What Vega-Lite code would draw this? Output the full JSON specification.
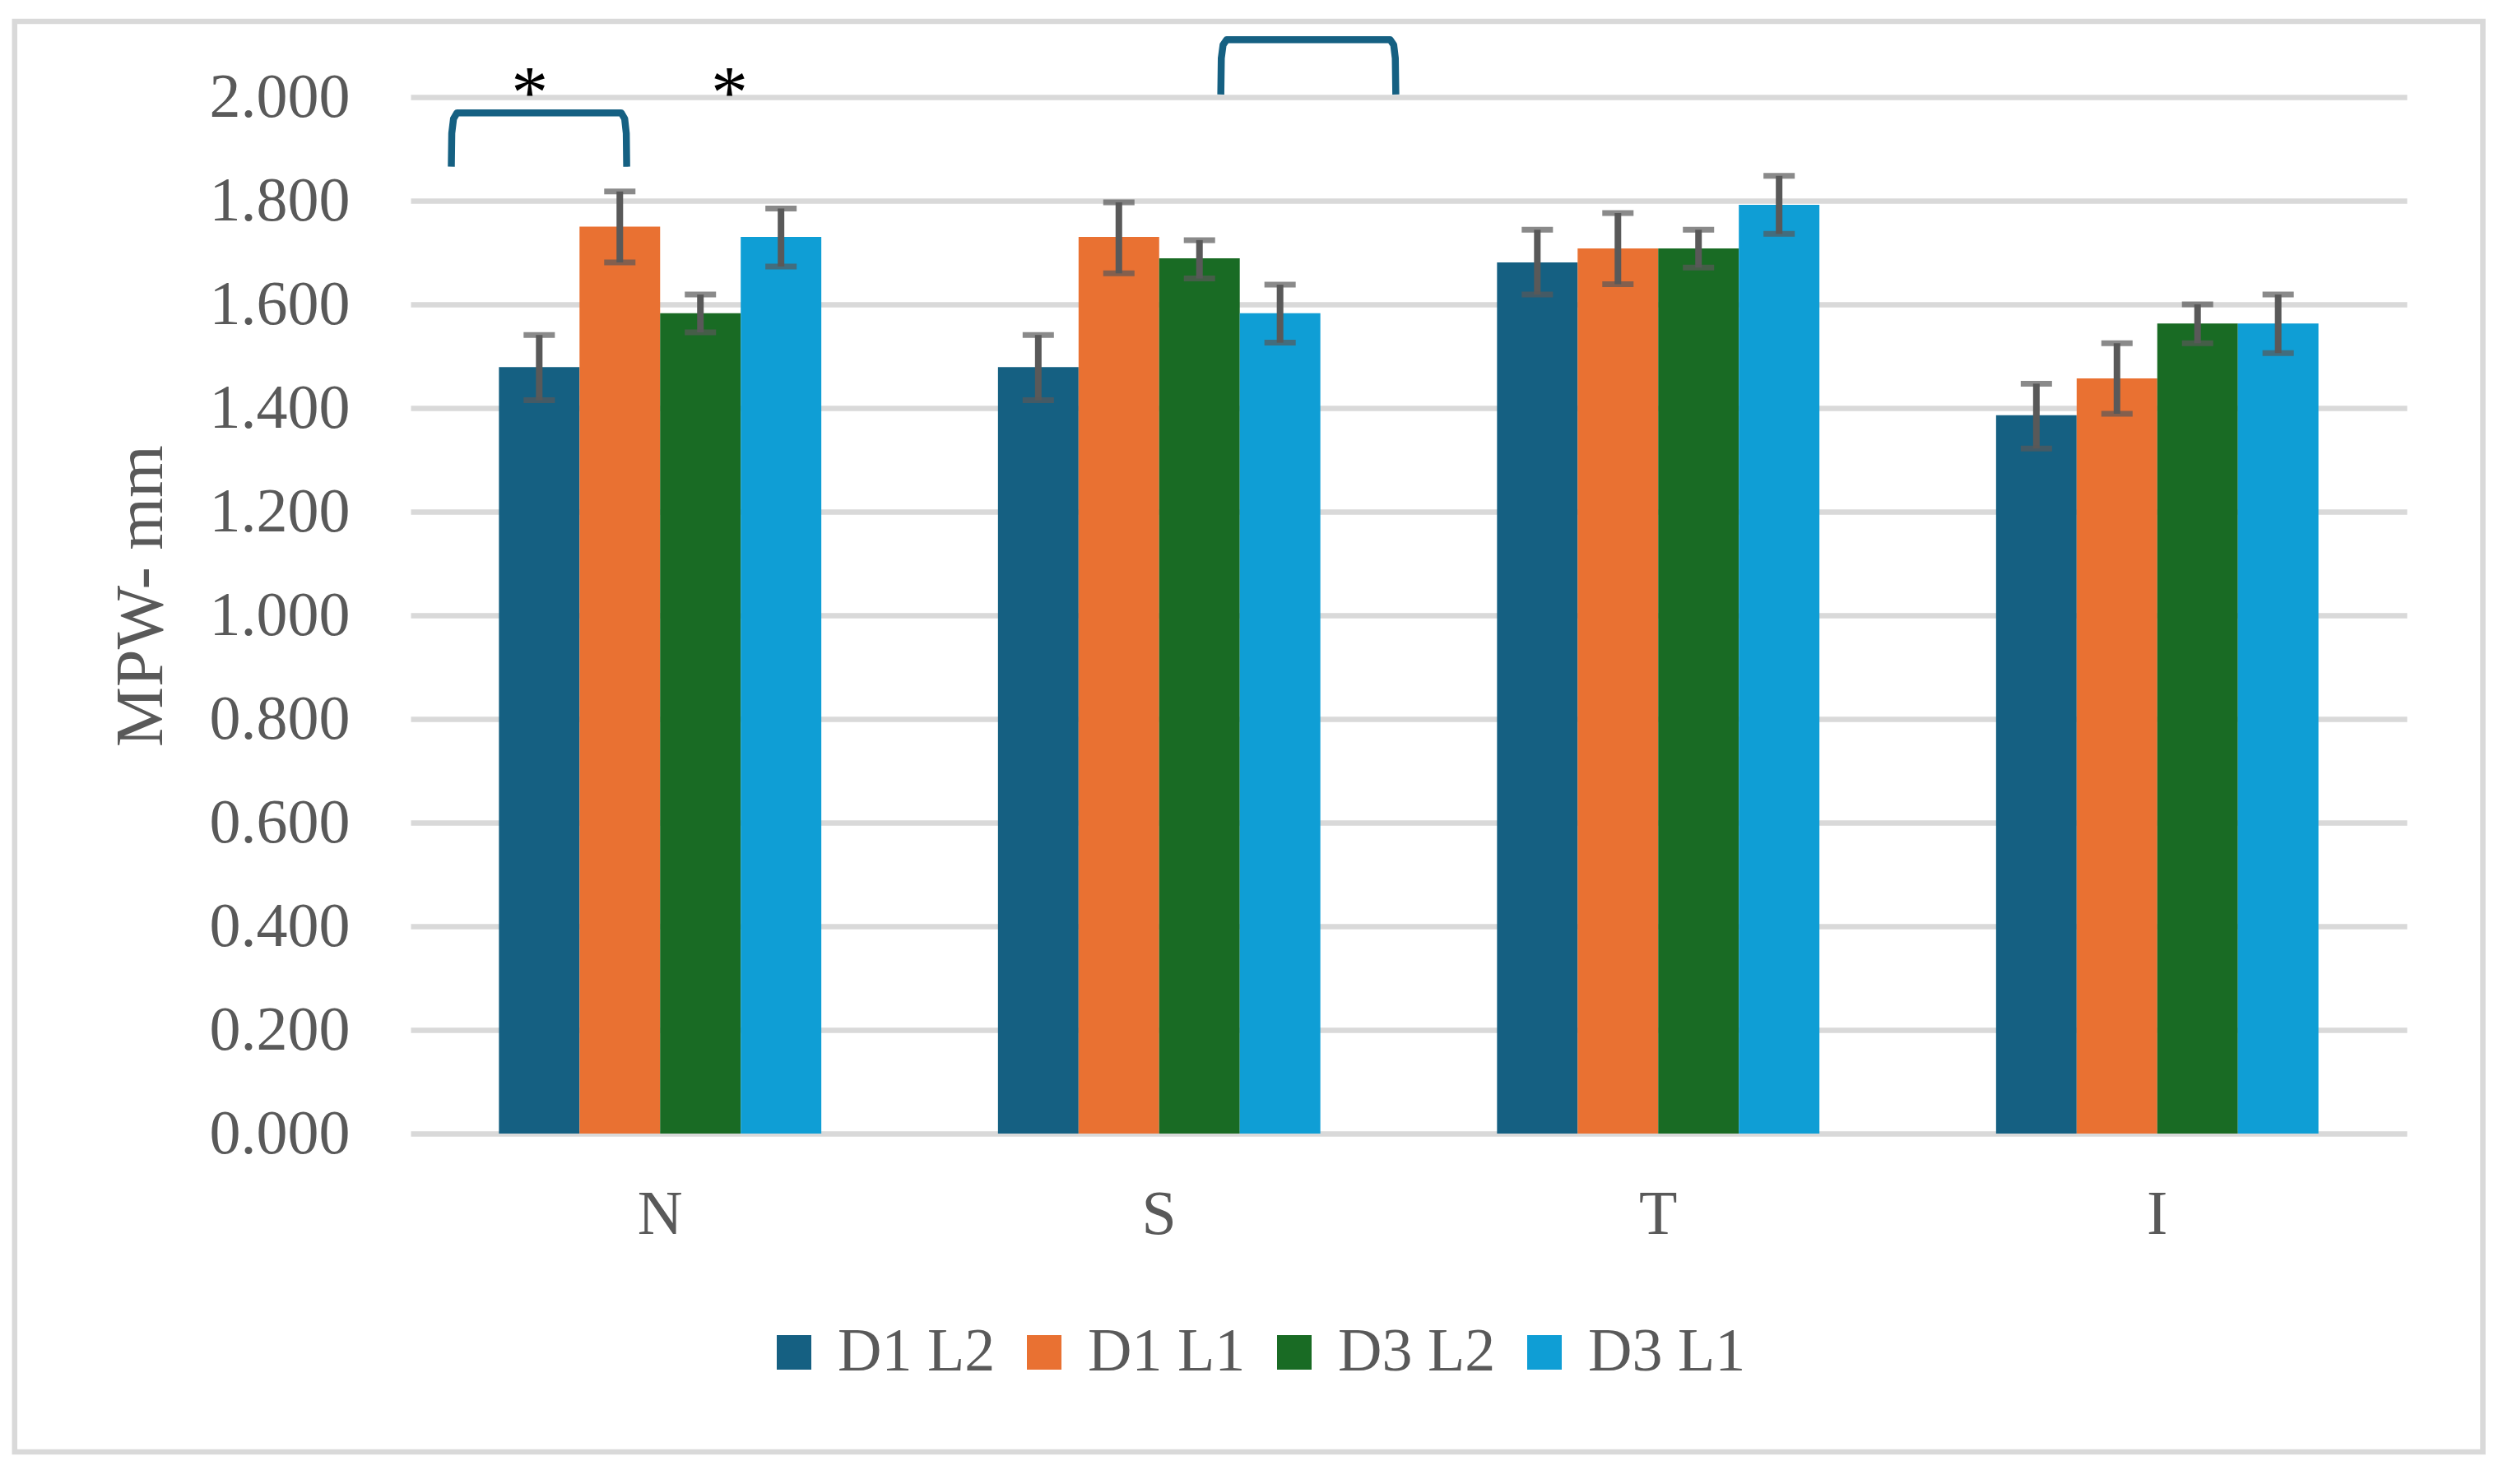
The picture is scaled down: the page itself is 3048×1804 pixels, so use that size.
{
  "$schema": "https://vega.github.io/schema/vega-lite/v6.json",
  "width": 2426,
  "height": 1260,
  "autosize": {"type": "none"},
  "padding": {"left": 499, "top": 118, "right": 123, "bottom": 426},
  "background": "white",
  "config": {
    "view": {"stroke": null},
    "font": "Liberation Serif"
  },
  "datasets": {
    "bars": [
      {"region": "N", "group": "D1 L2", "mean": 1.479, "lo": 1.415, "hi": 1.541},
      {"region": "N", "group": "D1 L1", "mean": 1.750, "lo": 1.681, "hi": 1.818},
      {"region": "N", "group": "D3 L2", "mean": 1.583, "lo": 1.546, "hi": 1.619},
      {"region": "N", "group": "D3 L1", "mean": 1.730, "lo": 1.673, "hi": 1.785},
      {"region": "S", "group": "D1 L2", "mean": 1.479, "lo": 1.415, "hi": 1.541},
      {"region": "S", "group": "D1 L1", "mean": 1.730, "lo": 1.660, "hi": 1.797},
      {"region": "S", "group": "D3 L2", "mean": 1.689, "lo": 1.650, "hi": 1.724},
      {"region": "S", "group": "D3 L1", "mean": 1.583, "lo": 1.526, "hi": 1.638},
      {"region": "T", "group": "D1 L2", "mean": 1.681, "lo": 1.619, "hi": 1.744},
      {"region": "T", "group": "D1 L1", "mean": 1.708, "lo": 1.639, "hi": 1.776},
      {"region": "T", "group": "D3 L2", "mean": 1.708, "lo": 1.671, "hi": 1.744},
      {"region": "T", "group": "D3 L1", "mean": 1.792, "lo": 1.736, "hi": 1.848},
      {"region": "I", "group": "D1 L2", "mean": 1.386, "lo": 1.322, "hi": 1.447},
      {"region": "I", "group": "D1 L1", "mean": 1.457, "lo": 1.389, "hi": 1.525},
      {"region": "I", "group": "D3 L2", "mean": 1.563, "lo": 1.525, "hi": 1.600},
      {"region": "I", "group": "D3 L1", "mean": 1.563, "lo": 1.506, "hi": 1.619}
    ],
    "brackets": [
      {"b": 1, "i": 1, "px": 0.0816, "py": 1.8656},
      {"b": 1, "i": 2, "px": 0.0825, "py": 1.93},
      {"b": 1, "i": 3, "px": 0.086, "py": 1.958},
      {"b": 1, "i": 4, "px": 0.093, "py": 1.9695},
      {"b": 1, "i": 5, "px": 0.422, "py": 1.9695},
      {"b": 1, "i": 6, "px": 0.429, "py": 1.958},
      {"b": 1, "i": 7, "px": 0.4322, "py": 1.93},
      {"b": 1, "i": 8, "px": 0.433, "py": 1.8656},
      {"b": 2, "i": 1, "px": 1.6235, "py": 2.005},
      {"b": 2, "i": 2, "px": 1.6245, "py": 2.075},
      {"b": 2, "i": 3, "px": 1.628, "py": 2.1005},
      {"b": 2, "i": 4, "px": 1.635, "py": 2.1106},
      {"b": 2, "i": 5, "px": 1.963, "py": 2.1106},
      {"b": 2, "i": 6, "px": 1.970, "py": 2.1005},
      {"b": 2, "i": 7, "px": 1.9732, "py": 2.075},
      {"b": 2, "i": 8, "px": 1.9742, "py": 2.005}
    ],
    "stars": [
      {"px": 0.2387, "py": 1.96, "label": "*"},
      {"px": 0.639, "py": 1.96, "label": "*"}
    ],
    "frame": [
      {"x1": -0.7934, "x2": 4.1525, "y1": 2.146, "y2": -0.6143}
    ]
  },
  "layer": [
    {
      "data": {"name": "bars"},
      "layer": [
        {
          "mark": {"type": "bar"},
          "encoding": {
            "x": {
              "field": "region", "type": "nominal", "sort": ["N", "S", "T", "I"],
              "scale": {"paddingInner": 0.354, "paddingOuter": 0.177},
              "axis": {
                "title": null, "labelAngle": 0, "domain": false, "ticks": false, "tickSize": 0,
                "labelFont": "Liberation Serif", "labelFontSize": 76, "labelColor": "#595959",
                "labelPadding": 61
              }
            },
            "xOffset": {
              "field": "group", "type": "nominal",
              "sort": ["D1 L2", "D1 L1", "D3 L2", "D3 L1"],
              "scale": {"paddingInner": 0, "paddingOuter": 0}
            },
            "y": {
              "field": "mean", "type": "quantitative", "title": "MPW- mm",
              "scale": {"domain": [0, 2], "nice": false, "zero": true},
              "axis": {
                "values": [0, 0.2, 0.4, 0.6, 0.8, 1.0, 1.2, 1.4, 1.6, 1.8, 2.0],
                "format": ".3f", "domain": false, "ticks": false, "tickSize": 0,
                "grid": true, "gridColor": "#d9d9d9", "gridWidth": 6.5,
                "labelFont": "Liberation Serif", "labelFontSize": 76, "labelColor": "#595959",
                "labelPadding": 74,
                "titleFont": "Liberation Serif", "titleFontSize": 82, "titleFontWeight": "normal",
                "titleColor": "#595959", "titleAngle": -90, "titleBaseline": "middle",
                "titleAlign": "center", "titleX": -328, "titleY": 606
              }
            },
            "color": {
              "field": "group", "type": "nominal",
              "scale": {
                "domain": ["D1 L2", "D1 L1", "D3 L2", "D3 L1"],
                "range": ["#156082", "#E97132", "#196B24", "#0F9ED5"]
              },
              "legend": {
                "title": null, "orient": "none", "direction": "horizontal",
                "legendX": 429, "legendY": 1489,
                "symbolType": "square", "symbolSize": 1764, "symbolStrokeWidth": 0,
                "labelFont": "Liberation Serif", "labelFontSize": 74, "labelColor": "#595959",
                "labelLimit": 1000,
                "labelOffset": 16, "columnPadding": 22, "padding": 0
              }
            }
          }
        },
        {
          "mark": {"type": "rule", "color": "#595959", "strokeWidth": 8},
          "encoding": {
            "x": {"field": "region", "type": "nominal", "sort": ["N", "S", "T", "I"]},
            "xOffset": {"field": "group", "type": "nominal", "sort": ["D1 L2", "D1 L1", "D3 L2", "D3 L1"]},
            "y": {"field": "lo", "type": "quantitative", "title": "MPW- mm"},
            "y2": {"field": "hi"}
          }
        },
        {
          "mark": {"type": "tick", "color": "#595959", "size": 38, "thickness": 7, "orient": "horizontal"},
          "encoding": {
            "x": {"field": "region", "type": "nominal", "sort": ["N", "S", "T", "I"]},
            "xOffset": {"field": "group", "type": "nominal", "sort": ["D1 L2", "D1 L1", "D3 L2", "D3 L1"]},
            "y": {"field": "lo", "type": "quantitative", "title": "MPW- mm"}
          }
        },
        {
          "mark": {"type": "tick", "color": "#595959", "size": 38, "thickness": 7, "orient": "horizontal"},
          "encoding": {
            "x": {"field": "region", "type": "nominal", "sort": ["N", "S", "T", "I"]},
            "xOffset": {"field": "group", "type": "nominal", "sort": ["D1 L2", "D1 L1", "D3 L2", "D3 L1"]},
            "y": {"field": "hi", "type": "quantitative", "title": "MPW- mm"}
          }
        }
      ]
    },
    {
      "layer": [
        {
          "data": {"name": "brackets"},
          "mark": {"type": "line", "color": "#156082", "strokeWidth": 8.5, "strokeJoin": "round", "strokeCap": "butt", "clip": false},
          "encoding": {
            "x": {"field": "px", "type": "quantitative", "scale": {"domain": [0, 4], "nice": false, "zero": false}, "axis": null},
            "y": {"field": "py", "type": "quantitative", "title": "MPW- mm"},
            "detail": {"field": "b", "type": "nominal"},
            "order": {"field": "i", "type": "quantitative"}
          }
        },
        {
          "data": {"name": "stars"},
          "mark": {"type": "text", "font": "Liberation Serif", "fontSize": 90, "color": "black", "baseline": "alphabetic", "align": "center", "clip": false},
          "encoding": {
            "x": {"field": "px", "type": "quantitative", "axis": null},
            "y": {"field": "py", "type": "quantitative", "title": "MPW- mm"},
            "text": {"field": "label"}
          }
        },
        {
          "data": {"name": "frame"},
          "mark": {"type": "rect", "fill": null, "filled": false, "stroke": "#d9d9d9", "strokeWidth": 6.5, "clip": false},
          "encoding": {
            "x": {"field": "x1", "type": "quantitative", "axis": null},
            "x2": {"field": "x2"},
            "y": {"field": "y1", "type": "quantitative", "title": "MPW- mm"},
            "y2": {"field": "y2"}
          }
        }
      ]
    }
  ],
  "resolve": {"scale": {"x": "independent"}}
}
